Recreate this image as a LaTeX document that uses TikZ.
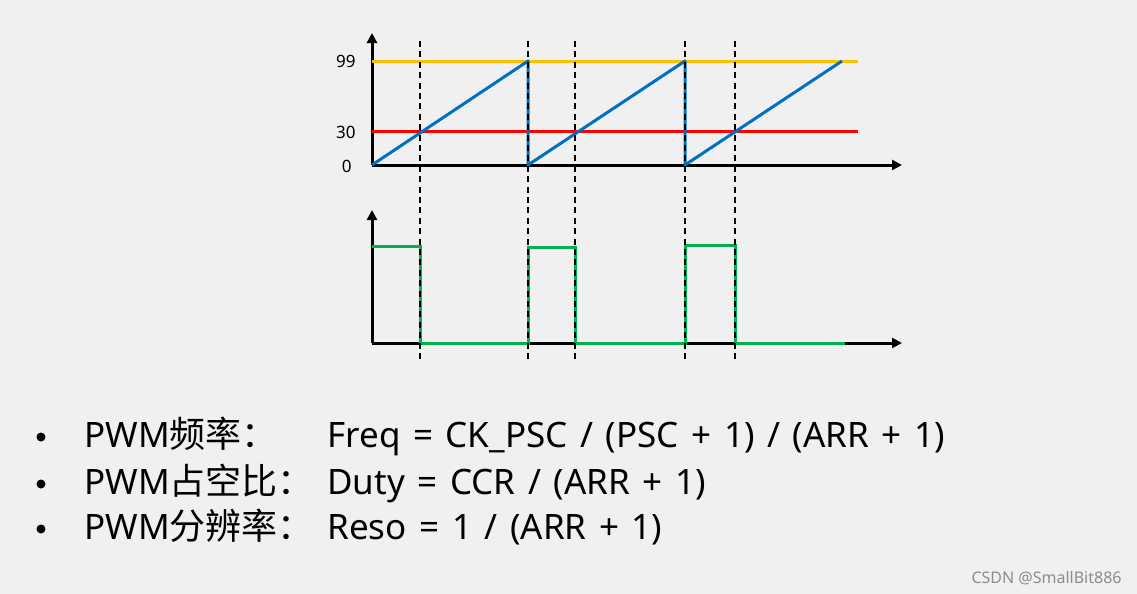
\documentclass[tikz,border=0pt]{standalone}
\usepackage{fontspec}
\setmainfont{Noto Sans}
\newfontfamily\cjk{Noto Sans CJK SC}
\usetikzlibrary{arrows.meta}

\definecolor{bgcol}{HTML}{F0F0F0}
\definecolor{topcol}{HTML}{FFC000}
\definecolor{cmpcol}{HTML}{FF0000}
\definecolor{cntcol}{HTML}{0070C0}
\definecolor{pwmcol}{HTML}{00B050}

\newcommand{\zh}[1]{{\cjk\fontsize{18pt}{20pt}\selectfont #1}}
\newcommand{\widesp}{\spaceskip=6.3pt plus 1pt\relax}

\begin{document}
\begin{tikzpicture}[x=0.5pt,y=-0.5pt,
  axis/.style={line width=1.5pt,-{Triangle[length=5pt,width=5pt]}},
  level/.style={line width=1.5pt},
  guide/.style={line width=1pt,dash pattern=on 3pt off 2.2pt},
  tick/.style={font=\fontsize{8.5pt}{10pt}\selectfont,anchor=east,inner sep=0pt},
  item/.style={font=\fontsize{17.5pt}{19pt}\selectfont\widesp,anchor=base west,inner sep=0pt}]
\fill[bgcol] (0,0) rectangle (1137,594);
\useasboundingbox (0,0) rectangle (1137,594);
% upper plot: counter
\draw[axis] (372,165) -- (372,33);
\draw[axis] (372,165) -- (902,165);
\node[tick] (l99) at (356,61) {99};
\node[tick] (l30) at (356,132) {30};
\node[tick] (l0) at (352,166) {0};
\draw[level,topcol] (372,61) -- (858,61);
\draw[level,cmpcol] (372,131) -- (858,131);
\draw[level,cntcol,line join=round] (372,165) -- (528,61) -- (528,165) -- (685,61) -- (685,165) -- (842,61);
% lower plot: output
\draw[axis] (372,343) -- (372,210);
\draw[axis] (372,343) -- (902,343);
\draw[level,pwmcol] (372,246) -- (420,246) -- (420,343) -- (528,343) -- (528,247) -- (575,247) -- (575,343)
  -- (685,343) -- (685,245) -- (735,245) -- (735,343) -- (845,343);
% compare events
\foreach \x in {420,528,575,685,735}
  \draw[guide] (\x,41) -- (\x,360);
% formulas
\foreach \y in {437,484,529}
  \fill (41,\y) circle (4.5);
\node[item] (t1) at (84,447) {PWM\zh{频率：}};
\node[item] (t2) at (84,494) {PWM\zh{占空比：}};
\node[item] (t3) at (84,539) {PWM\zh{分辨率：}};
\node[item] (f1) at (327,447) {Freq = CK\_PSC / (PSC + 1) / (ARR + 1)};
\node[item] (f2) at (327,494) {Duty = CCR / (ARR + 1)};
\node[item] (f3) at (327,539) {Reso = 1 / (ARR + 1)};
\node[font=\fontsize{8pt}{9pt}\selectfont,text=black!45,anchor=east,inner sep=0pt] (mark) at (1122,578) {CSDN @SmallBit886};
\end{tikzpicture}
\end{document}
